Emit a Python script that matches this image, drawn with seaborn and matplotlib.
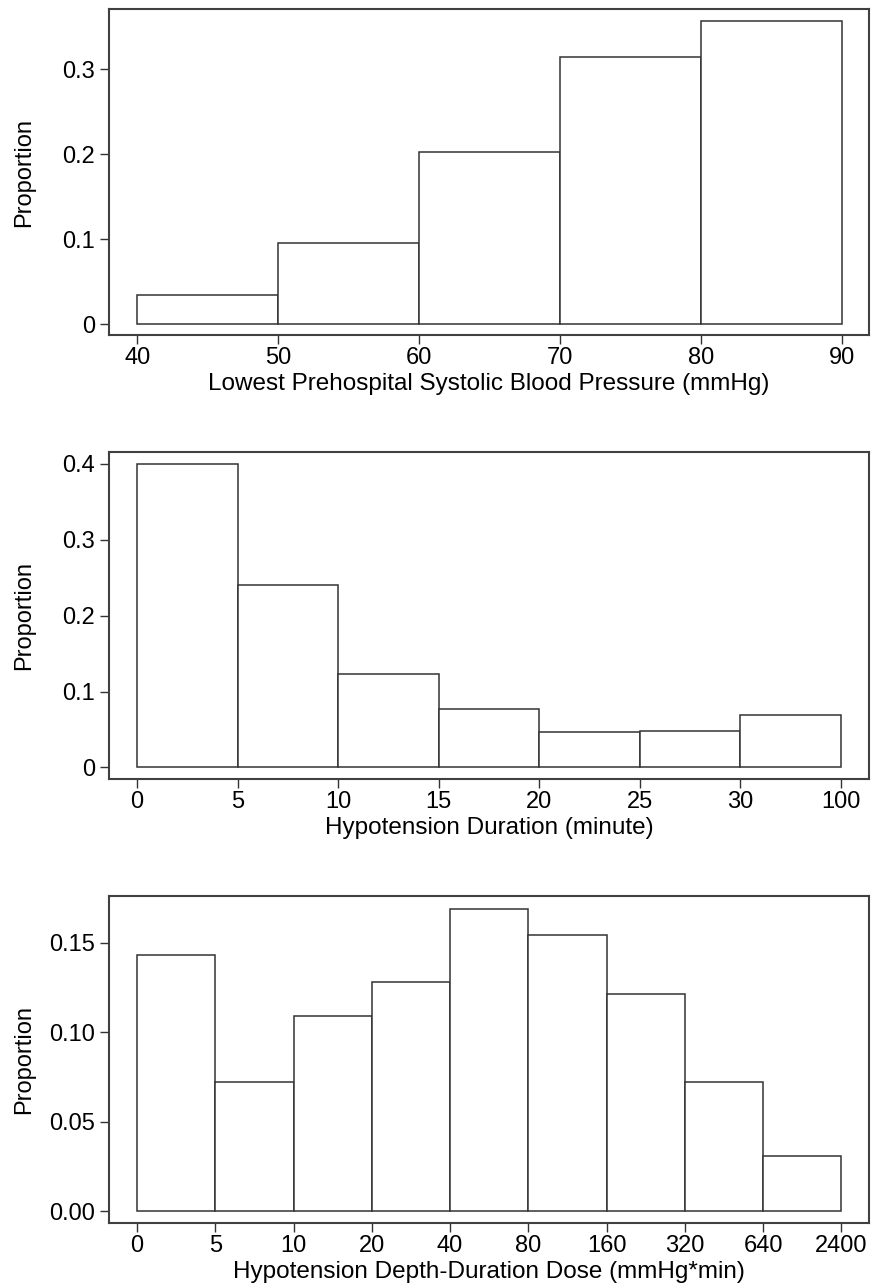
import numpy as np
import matplotlib
matplotlib.use("Agg")
import matplotlib.pyplot as plt
import seaborn as sns

# panel 1: lowest prehospital SBP
sbp_edges = [40, 50, 60, 70, 80, 90]
sbp_prop = [0.034, 0.095, 0.202, 0.314, 0.357]

# panel 2: hypotension duration (equal width bins)
dur_labels = ["0", "5", "10", "15", "20", "25", "30", "100"]
dur_prop = [0.400, 0.240, 0.123, 0.077, 0.047, 0.048, 0.069]

# panel 3: depth-duration dose (equal width bins)
dose_labels = ["0", "5", "10", "20", "40", "80", "160", "320", "640", "2400"]
dose_prop = [0.143, 0.072, 0.109, 0.128, 0.169, 0.154, 0.121, 0.072, 0.031]

sns.set_style("ticks")
plt.rcParams["font.family"] = ["Liberation Sans", "DejaVu Sans"]

edge = "#333333"
fs = 17

fig = plt.figure(figsize=(8.71, 12.87), dpi=100)
ax1 = fig.add_axes([0.125, 0.7397, 0.8725, 0.2533])
ax2 = fig.add_axes([0.125, 0.3947, 0.8725, 0.2541])
ax3 = fig.add_axes([0.125, 0.0497, 0.8725, 0.2541])


def hist(ax, centers, props, edges):
    sns.histplot(x=list(centers), weights=list(props), bins=list(edges), ax=ax,
                 color="white", edgecolor=edge, linewidth=1.1, alpha=1)


# 1
centers = [(sbp_edges[i] + sbp_edges[i + 1]) / 2 for i in range(len(sbp_prop))]
hist(ax1, centers, sbp_prop, sbp_edges)
ax1.set_xlim(37.99, 91.93)
ax1.set_ylim(-0.0129, 0.3706)
ax1.set_xticks(sbp_edges)
ax1.set_yticks([0, 0.1, 0.2, 0.3])
ax1.set_yticklabels(["0", "0.1", "0.2", "0.3"])
ax1.set_xlabel("Lowest Prehospital Systolic Blood Pressure (mmHg)")

# 2
n2 = len(dur_prop)
hist(ax2, [i + 0.5 for i in range(n2)], dur_prop, range(n2 + 1))
ax2.set_xlim(-0.28, n2 + 0.28)
ax2.set_ylim(-0.0154, 0.4158)
ax2.set_xticks(range(n2 + 1))
ax2.set_xticklabels(dur_labels)
ax2.set_yticks([0, 0.1, 0.2, 0.3, 0.4])
ax2.set_yticklabels(["0", "0.1", "0.2", "0.3", "0.4"])
ax2.set_xlabel("Hypotension Duration (minute)")

# 3
n3 = len(dose_prop)
hist(ax3, [i + 0.5 for i in range(n3)], dose_prop, range(n3 + 1))
ax3.set_xlim(-0.36, n3 + 0.35)
ax3.set_ylim(-0.0067, 0.176)
ax3.set_xticks(range(n3 + 1))
ax3.set_xticklabels(dose_labels)
ax3.set_yticks([0, 0.05, 0.10, 0.15])
ax3.set_yticklabels(["0.00", "0.05", "0.10", "0.15"])
ax3.set_xlabel("Hypotension Depth-Duration Dose (mmHg*min)")

for ax in (ax1, ax2, ax3):
    ax.set_ylabel("Proportion", fontsize=fs, color="black")
    ax.yaxis.set_label_coords(-0.097, 0.5)
    ax.xaxis.label.set_fontsize(17.5)
    ax.xaxis.label.set_color("black")
    ax.xaxis.labelpad = 3
    ax.tick_params(labelsize=fs, direction="out", length=6.5, width=1, color=edge,
                   labelcolor="black")
    ax.tick_params(axis="x", pad=1.8)
    for s in ax.spines.values():
        s.set_visible(True)
        s.set_color("#404040")
        s.set_linewidth(1.5)
    ax.set_facecolor("white")

fig.savefig("out.png", dpi=100)
